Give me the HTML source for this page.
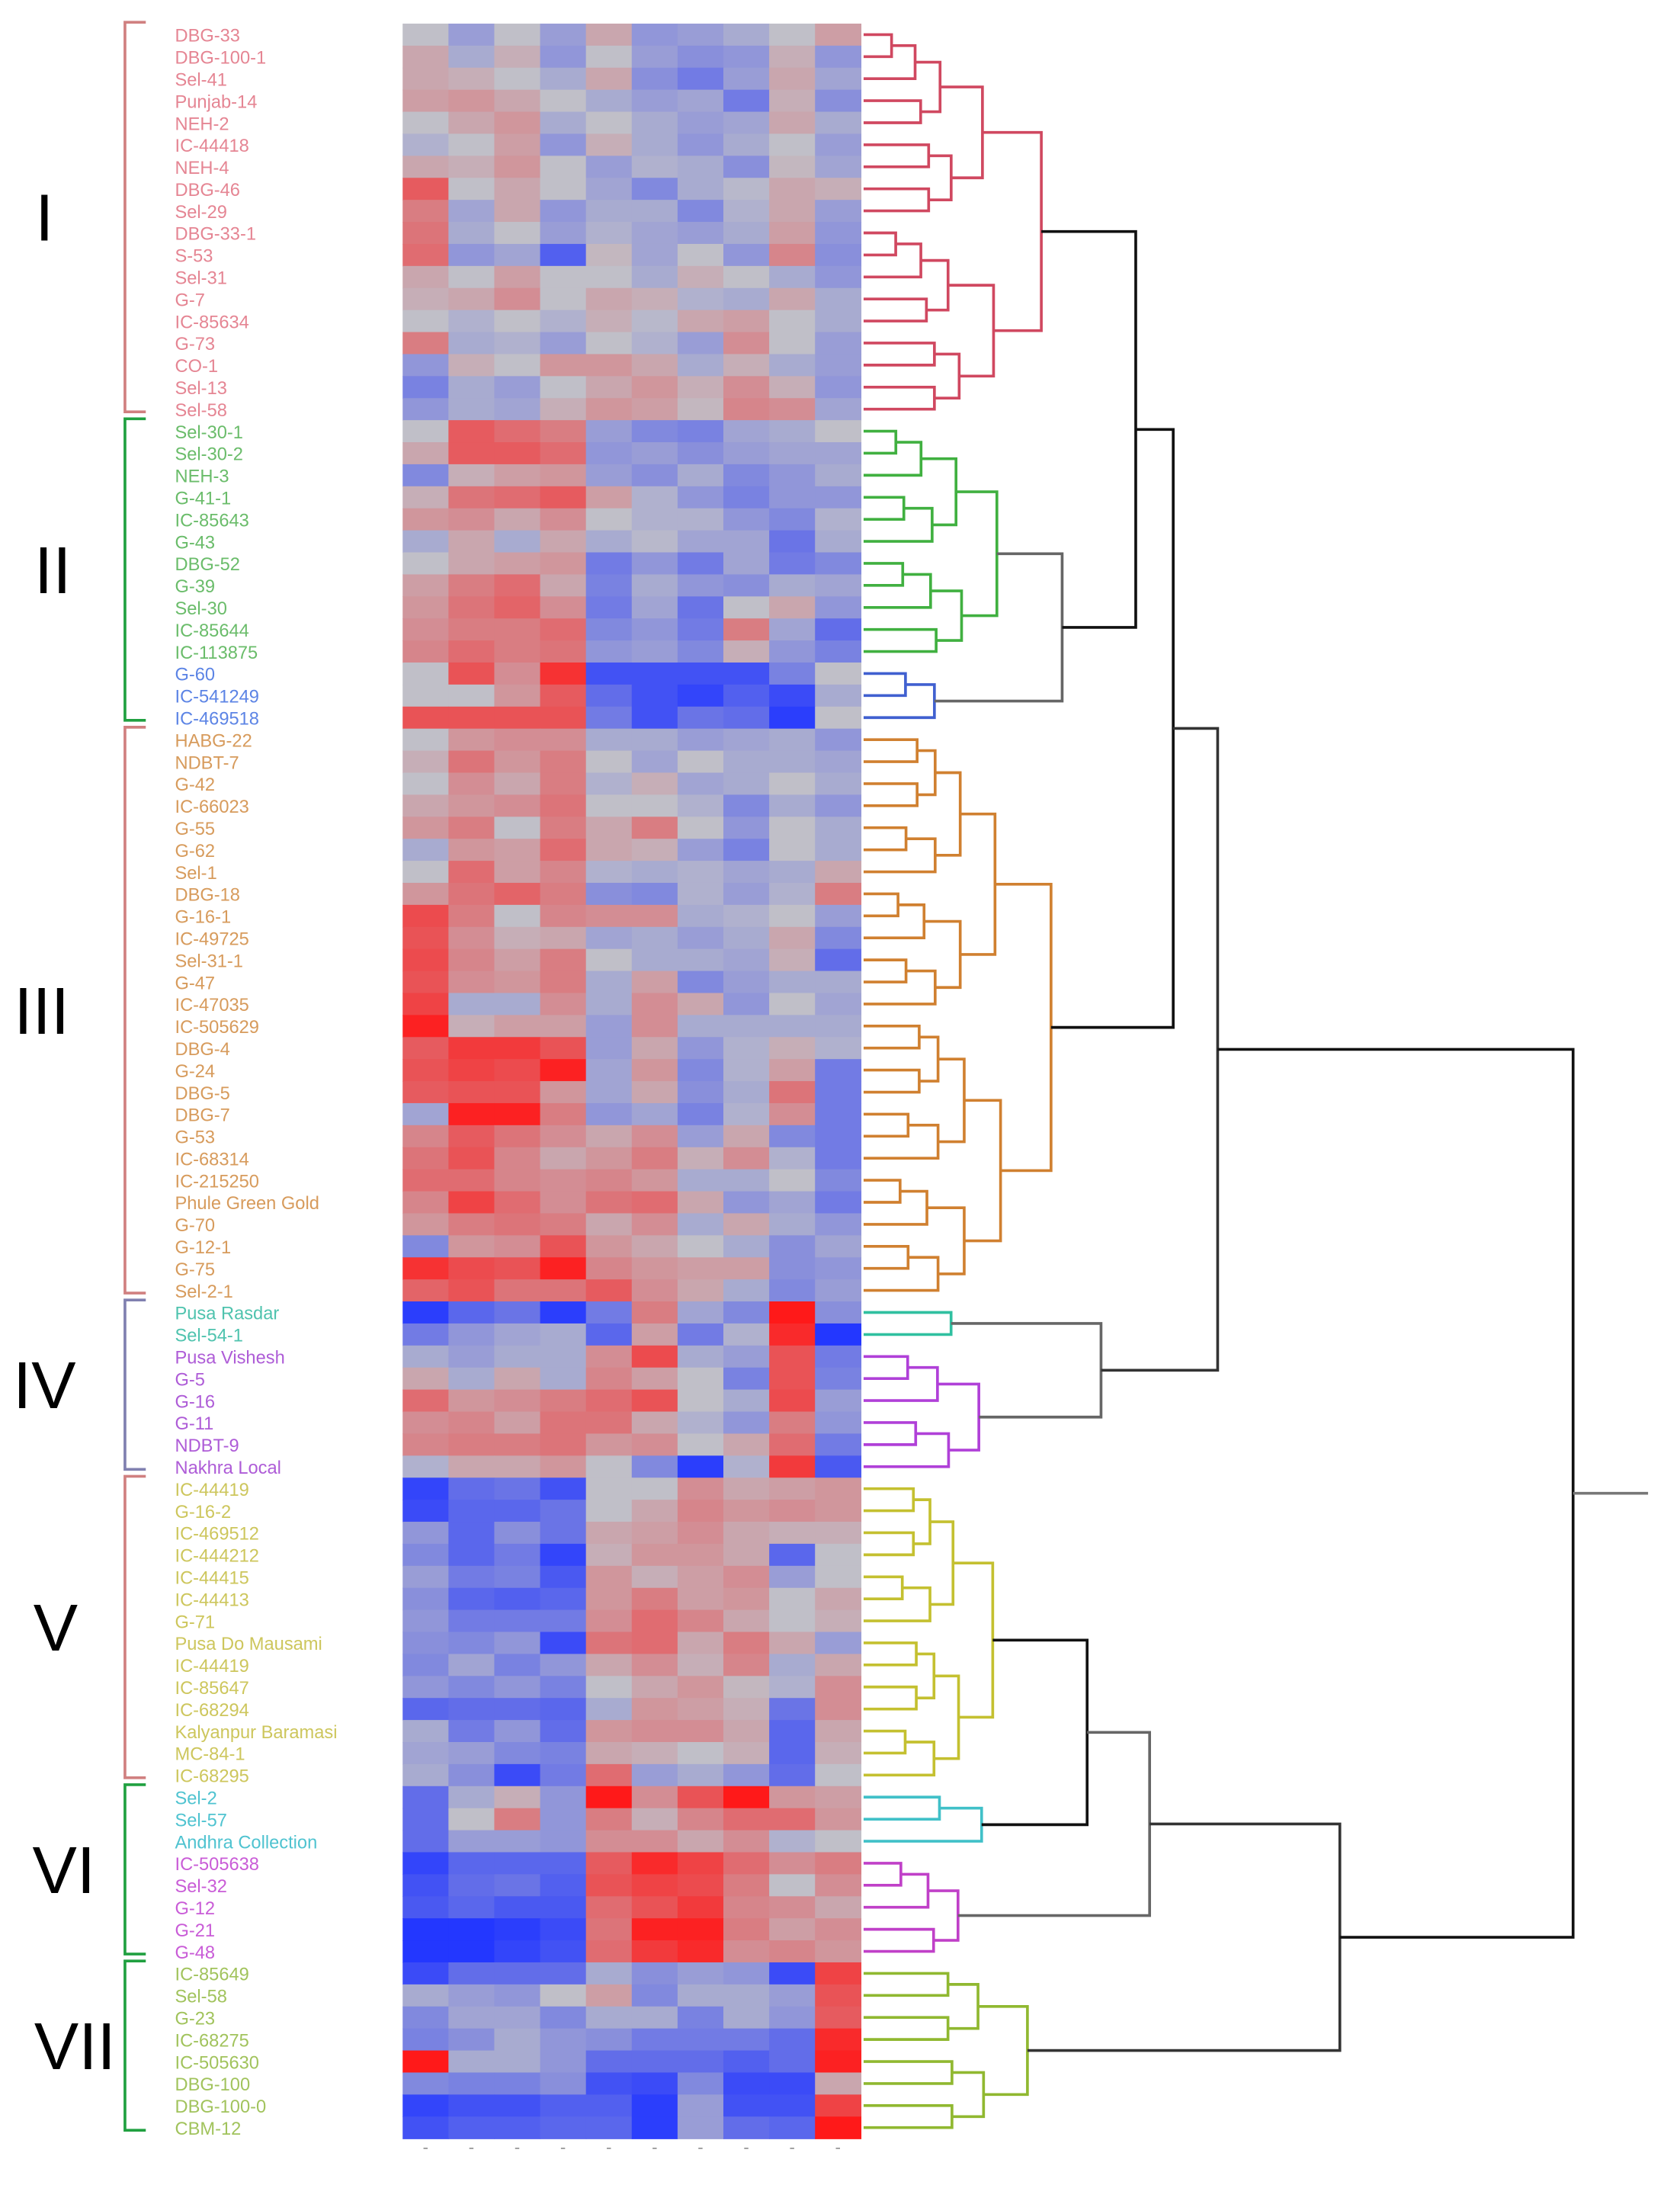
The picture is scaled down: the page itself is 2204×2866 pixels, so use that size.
<!DOCTYPE html>
<html><head><meta charset="utf-8">
<style>
html,body{margin:0;padding:0;background:#fff;}
svg{display:block;}
text{font-family:"Liberation Sans",sans-serif;}
</style></head>
<body>
<svg id="chart" width="2204" height="2866" viewBox="0 0 1210 1573.4" preserveAspectRatio="none" xmlns="http://www.w3.org/2000/svg">
<g id="brackets"></g>
<g id="labels"></g>
<g id="cells"></g>
<g id="dendro"></g>
</svg>
<script>
const rowLabels = ["DBG-33","DBG-100-1","Sel-41","Punjab-14","NEH-2","IC-44418","NEH-4","DBG-46","Sel-29","DBG-33-1","S-53","Sel-31","G-7","IC-85634","G-73","CO-1","Sel-13","Sel-58",
"Sel-30-1","Sel-30-2","NEH-3","G-41-1","IC-85643","G-43","DBG-52","G-39","Sel-30","IC-85644","IC-113875","G-60","IC-541249","IC-469518",
"HABG-22","NDBT-7","G-42","IC-66023","G-55","G-62","Sel-1","DBG-18","G-16-1","IC-49725","Sel-31-1","G-47","IC-47035","IC-505629","DBG-4","G-24","DBG-5","DBG-7","G-53","IC-68314","IC-215250","Phule Green Gold","G-70","G-12-1","G-75","Sel-2-1",
"Pusa Rasdar","Sel-54-1","Pusa Vishesh","G-5","G-16","G-11","NDBT-9","Nakhra Local",
"IC-44419","G-16-2","IC-469512","IC-444212","IC-44415","IC-44413","G-71","Pusa Do Mausami","IC-44419","IC-85647","IC-68294","Kalyanpur Baramasi","MC-84-1","IC-68295",
"Sel-2","Sel-57","Andhra Collection","IC-505638","Sel-32","G-12","G-21","G-48",
"IC-85649","Sel-58","G-23","IC-68275","IC-505630","DBG-100","DBG-100-0","CBM-12"];
const values = [
[0,-0.5,0,-0.5,0.3,-0.6,-0.5,-0.3,0,0.4],[0.3,-0.3,0.2,-0.6,0,-0.5,-0.7,-0.6,0.2,-0.6],[0.3,0.2,0,-0.3,0.3,-0.7,-1,-0.5,0.3,-0.4],[0.4,0.5,0.3,0,-0.3,-0.5,-0.4,-1,0.2,-0.7],[0,0.3,0.5,-0.3,0,-0.3,-0.5,-0.4,0.3,-0.3],[-0.2,0,0.4,-0.6,0.2,-0.3,-0.6,-0.3,0,-0.5],[0.3,0.2,0.5,0,-0.5,-0.2,-0.3,-0.7,0.1,-0.4],[1.2,0,0.3,0,-0.4,-0.8,-0.3,-0.1,0.3,0.2],[0.8,-0.4,0.3,-0.6,-0.3,-0.3,-0.8,-0.2,0.3,-0.5],[0.9,-0.3,0,-0.5,-0.2,-0.4,-0.5,-0.3,0.4,-0.6],[1,-0.6,-0.4,-1.4,0.1,-0.4,0,-0.6,0.7,-0.7],[0.3,0,0.4,0,0,-0.3,0.2,0,-0.3,-0.6],[0.2,0.3,0.6,0,0.3,0.2,-0.2,-0.3,0.3,-0.3],[0,-0.2,0,-0.2,0.2,-0.1,0.3,0.4,0,-0.3],[0.8,-0.3,-0.2,-0.5,0,-0.2,-0.5,0.6,0,-0.5],[-0.6,0.2,0,0.5,0.5,0.3,-0.3,0.2,-0.3,-0.5],[-0.9,-0.3,-0.5,0,0.3,0.5,0.2,0.6,0.2,-0.6],[-0.6,-0.3,-0.4,0.2,0.5,0.4,0.1,0.7,0.6,-0.4],
[0,1.2,1,0.8,-0.5,-0.8,-0.9,-0.4,-0.3,0],[0.3,1.2,1.2,1,-0.6,-0.5,-0.7,-0.5,-0.4,-0.4],[-0.8,0.2,0.4,0.5,-0.5,-0.7,-0.3,-0.8,-0.6,-0.3],[0.2,0.9,1,1.2,0.4,-0.2,-0.6,-0.9,-0.6,-0.6],[0.5,0.6,0.3,0.6,0,-0.2,-0.2,-0.6,-0.8,-0.2],[-0.3,0.3,-0.3,0.3,-0.3,-0.1,-0.4,-0.4,-1.1,-0.3],[0,0.3,0.4,0.5,-1,-0.6,-1,-0.4,-1,-0.8],[0.4,0.8,1,0.3,-0.9,-0.3,-0.6,-0.7,-0.3,-0.4],[0.5,0.9,1.1,0.6,-1,-0.4,-1.1,0,0.3,-0.6],[0.6,0.8,0.8,1,-0.8,-0.6,-1,0.8,-0.4,-1.2],[0.7,1,0.8,0.9,-0.6,-0.5,-0.8,0.2,-0.6,-0.9],[0,1.3,0.6,1.7,-1.6,-1.6,-1.6,-1.6,-0.9,0],[0,0,0.5,1.2,-1.2,-1.6,-1.8,-1.4,-1.7,-0.3],[1.3,1.3,1.3,1.3,-1,-1.6,-1.1,-1.2,-1.9,0],
[0,0.5,0.6,0.6,-0.3,-0.3,-0.5,-0.4,-0.3,-0.6],[0.2,0.9,0.5,0.8,0,-0.4,0,-0.3,-0.3,-0.4],[0,0.6,0.3,0.8,-0.2,0.2,-0.4,-0.3,0,-0.3],[0.3,0.5,0.6,0.9,0,0,-0.2,-0.8,-0.3,-0.6],[0.5,0.8,0,0.8,0.3,0.8,0,-0.6,0,-0.3],[-0.3,0.5,0.4,1,0.3,0.2,-0.5,-0.9,0,-0.3],[0,1,0.4,0.7,-0.2,-0.3,-0.2,-0.4,-0.3,0.3],[0.5,0.9,1.1,0.8,-0.7,-0.8,-0.2,-0.5,-0.2,0.8],[1.4,0.8,0,0.7,0.6,0.6,-0.3,-0.2,0,-0.5],[1.3,0.6,0.2,0.3,-0.4,-0.3,-0.5,-0.3,0.3,-0.8],[1.4,0.7,0.4,0.8,0,-0.3,-0.3,-0.4,0.2,-1.2],[1.3,0.6,0.5,0.8,-0.3,0.4,-0.8,-0.5,-0.3,-0.3],[1.5,-0.3,-0.3,0.6,-0.3,0.6,0.3,-0.6,0,-0.4],[1.9,0.2,0.4,0.4,-0.5,0.6,-0.3,-0.3,-0.3,-0.3],[1.2,1.6,1.6,1.3,-0.5,0.3,-0.6,-0.2,0.2,-0.2],[1.3,1.5,1.4,1.9,-0.4,0.5,-0.8,-0.2,0.4,-1],[1.2,1.3,1.3,0.5,-0.4,0.3,-0.7,-0.3,0.9,-1],[-0.4,1.9,1.9,0.8,-0.6,-0.4,-0.9,-0.2,0.6,-1],[0.7,1.2,0.9,0.6,0.3,0.6,-0.5,0.3,-0.8,-1],[0.9,1.3,0.7,0.3,0.5,0.8,0.2,0.6,-0.2,-1],[1,1,0.7,0.6,0.7,0.5,-0.3,-0.3,0,-0.8],[0.7,1.5,1,0.6,0.9,1,0.3,-0.6,-0.4,-1],[0.5,0.8,0.9,0.8,0.3,0.6,-0.3,0.3,-0.3,-0.6],[-0.8,0.5,0.6,1.3,0.5,0.3,0,-0.3,-0.7,-0.4],[1.7,1.4,1.3,1.9,0.7,0.5,0.4,0.4,-0.7,-0.6],[1.1,1.3,0.9,0.9,1.2,0.6,0.3,-0.3,-0.8,-0.5],
[-1.9,-1.3,-1.1,-1.9,-1,0.8,-0.4,-0.8,2,-0.7],[-1,-0.6,-0.4,-0.3,-1.3,0.4,-1,-0.2,1.8,-2],[-0.3,-0.5,-0.3,-0.3,0.6,1.4,-0.3,-0.5,1.3,-1],[0.3,-0.3,0.3,-0.3,0.7,0.4,0,-0.9,1.3,-0.9],[1,0.5,0.6,0.8,1,1.3,0,-0.3,1.4,-0.5],[0.6,0.7,0.4,0.9,0.9,0.3,-0.2,-0.6,0.8,-0.6],[0.7,0.8,0.8,0.9,0.5,0.6,0,0.3,1,-1],[-0.2,0.3,0.3,0.5,0,-0.8,-1.9,-0.2,1.6,-1.5],
[-1.8,-1.2,-1.1,-1.6,0,0,0.6,0.3,0.4,0.5],[-1.7,-1.3,-1.3,-1.1,0,0.3,0.7,0.5,0.6,0.5],[-0.6,-1.3,-0.7,-1.1,0.3,0.4,0.6,0.3,0.2,0.2],[-0.8,-1.3,-1,-1.8,0.2,0.5,0.5,0.3,-1.3,0],[-0.5,-1,-0.9,-1.5,0.5,0.2,0.4,0.6,-0.5,0],[-0.7,-1.3,-1.4,-1.3,0.5,0.8,0.4,0.5,0,0.3],[-0.6,-1,-1,-1,0.6,1,0.7,0.3,0,0.2],[-0.7,-0.8,-0.6,-1.7,0.9,1,0.3,0.8,0.3,-0.5],[-0.8,-0.4,-0.9,-0.6,0.3,0.6,0.2,0.7,-0.3,0.3],[-0.6,-0.8,-0.6,-0.9,0,0.3,0.5,0.1,-0.2,0.6],[-1.3,-1.2,-1.2,-1.3,-0.3,0.5,0.4,0.2,-1.1,0.6],[-0.3,-1,-0.6,-1.2,0.5,0.6,0.6,0.3,-1.3,0.3],[-0.4,-0.5,-0.8,-0.9,0.3,0.2,0,0.2,-1.3,0.2],[-0.3,-0.7,-1.7,-1,1,-0.5,-0.3,-0.6,-1.2,0],
[-1.2,-0.3,0.2,-0.6,2,0.6,1.3,2,0.5,0.4],[-1.2,0,0.8,-0.6,0.8,0.2,0.7,1,1,0.5],[-1.2,-0.5,-0.5,-0.6,0.6,0.6,0.3,0.6,-0.2,0],[-1.8,-1.3,-1.3,-1.3,1.2,1.8,1.5,1,0.6,0.8],[-1.6,-1.2,-1.1,-1.4,1.3,1.5,1.4,0.8,0,0.6],[-1.5,-1.3,-1.5,-1.5,1,1.3,1.6,0.7,0.6,0.3],[-2,-2,-1.9,-1.7,0.9,1.9,1.9,0.8,0.4,0.6],[-2,-2,-1.8,-1.6,1,1.6,1.8,0.6,0.7,0.5],
[-1.7,-1.2,-1.2,-1.2,-0.3,-0.7,-0.5,-0.6,-1.7,1.5],[-0.3,-0.5,-0.6,0,0.4,-0.8,-0.3,-0.3,-0.5,1.3],[-0.8,-0.4,-0.4,-0.8,-0.3,-0.3,-0.9,-0.3,-0.6,1.2],[-0.9,-0.7,-0.3,-0.6,-0.7,-1,-1,-1,-1.2,1.8],[2,-0.3,-0.3,-0.6,-1.2,-1.2,-1.2,-1.4,-1.2,1.9],[-0.8,-0.9,-0.9,-0.7,-1.6,-1.7,-0.8,-1.7,-1.7,0.3],[-1.8,-1.6,-1.6,-1.4,-1.4,-1.9,-0.5,-1.6,-1.6,1.5],[-1.6,-1.4,-1.4,-1.3,-1.3,-1.9,-0.5,-1.2,-1.3,2]];
const groupNames = ["I","II","III","IV","V","VI","VII"];
const groupStarts = [0,18,32,58,66,80,88];
const groupEnds = [17,31,57,65,79,87,95];
const bracketColors = ["#d08080","#20a040","#d08080","#8080b0","#d08080","#20a040","#20a040"];
const numeralX = [32,38,30,32,40,46,54];

const NS="http://www.w3.org/2000/svg";
const X0=290, X1=620, Y0=17, Y1=1540, NR=96, NC=10;
const rh=(Y1-Y0)/NR, cw=(X1-X0)/NC;
const yRow=i=>Y0+i*rh, xCol=j=>X0+j*cw;
function mk(tag,attrs,parent){const e=document.createElementNS(NS,tag);for(const k in attrs)e.setAttribute(k,attrs[k]);parent.appendChild(e);return e;}
function color(v){const n=[192,191,200];let t=Math.min(1,Math.abs(v)/2);const end=v>0?[255,25,25]:[35,55,255];
 return `rgb(${n.map((c,i)=>Math.round(c+(end[i]-c)*t)).join(",")})`;}
function labelColor(i){if(i<18)return"#e07080";if(i<29)return"#50b050";if(i<32)return"#3f6fe0";if(i<58)return"#d08a40";if(i<60)return"#30b8a0";if(i<66)return"#a040d0";if(i<80)return"#c4bc40";if(i<83)return"#30b8c8";if(i<88)return"#c040d0";return"#90b840";}

const cells=document.getElementById("cells");
values.forEach((row,i)=>row.forEach((v,j)=>{
 const r=mk("rect",{x:xCol(j),y:yRow(i),width:cw+0.4,height:rh+0.4,fill:color(v)},cells);
 
 
}));
for(let j=0;j<NC;j++){const t=mk("line",{x1:xCol(j)+cw/2-1.5,x2:xCol(j)+cw/2+1.5,y1:1547,y2:1547,stroke:"#999","stroke-width":1},cells);
 
 }

const labels=document.getElementById("labels");
rowLabels.forEach((s,i)=>{const t=mk("text",{x:126,y:yRow(i)+rh*0.82,"font-size":13,fill:labelColor(i),"fill-opacity":0.85},labels);
 t.textContent=s;
 
 });

const br=document.getElementById("brackets");
groupNames.forEach((g,k)=>{const ya=yRow(groupStarts[k])-1,yb=yRow(groupEnds[k]+1)-6;
 const p=mk("path",{d:`M105 ${ya} L90 ${ya} L90 ${yb} L105 ${yb}`,fill:"none",stroke:bracketColors[k],"stroke-width":2},br);
 
 
 const t=mk("text",{x:numeralX[k],y:(ya+yb)/2+17,"font-size":48,"text-anchor":"middle",fill:"#000"},br);
 t.textContent=g;
 
 });

const dg=document.getElementById("dendro");
function link(a,b,h,col){const p=mk("path",{d:`M${a.h} ${a.y} H${h} V${b.y} H${b.h}`,fill:"none",stroke:col,"stroke-width":2},dg);
 
 
 return {h:h,y:(a.y+b.y)/2};}
function sub(s,e,h,col){if(s===e)return{h:X1+2,y:yRow(s)+rh/2};
 const m=Math.floor((s+e)/2);const ch=X1+2+(h-X1)*0.72;
 const a=sub(s,m,s===m?X1:ch-(e-s)%3*4,col),b=sub(m+1,e,m+1===e?X1:ch,col);return link(a,b,h,col);}
const I=sub(0,17,750,"#d04860"), IIg=sub(18,28,718,"#40b040"), IIb=sub(29,31,673,"#4060d0");
const II=link(IIg,IIb,765,"#666");
const A2=link(I,II,818,"#111");
const III=sub(32,57,757,"#d08030");
const A1=link(A2,III,845,"#111");
const IVt=sub(58,59,685,"#30c0a0"), IVp=sub(60,65,705,"#b040d8");
const IV=link(IVt,IVp,793,"#666");
const A=link(A1,IV,877,"#333");
const V=sub(66,79,715,"#c4c030"), VIt=sub(80,82,707,"#40c0c8");
const B2=link(V,VIt,783,"#111");
const VIp=sub(83,87,690,"#c040c8");
const B1=link(B2,VIp,828,"#666");
const VII=sub(88,95,740,"#90b830");
const B=link(B1,VII,965,"#333");
const R=link(A,B,1133,"#111");
const st=mk("line",{x1:1133,y1:R.y,x2:1187,y2:R.y,stroke:"#777","stroke-width":2},dg);


</script>
</body></html>
